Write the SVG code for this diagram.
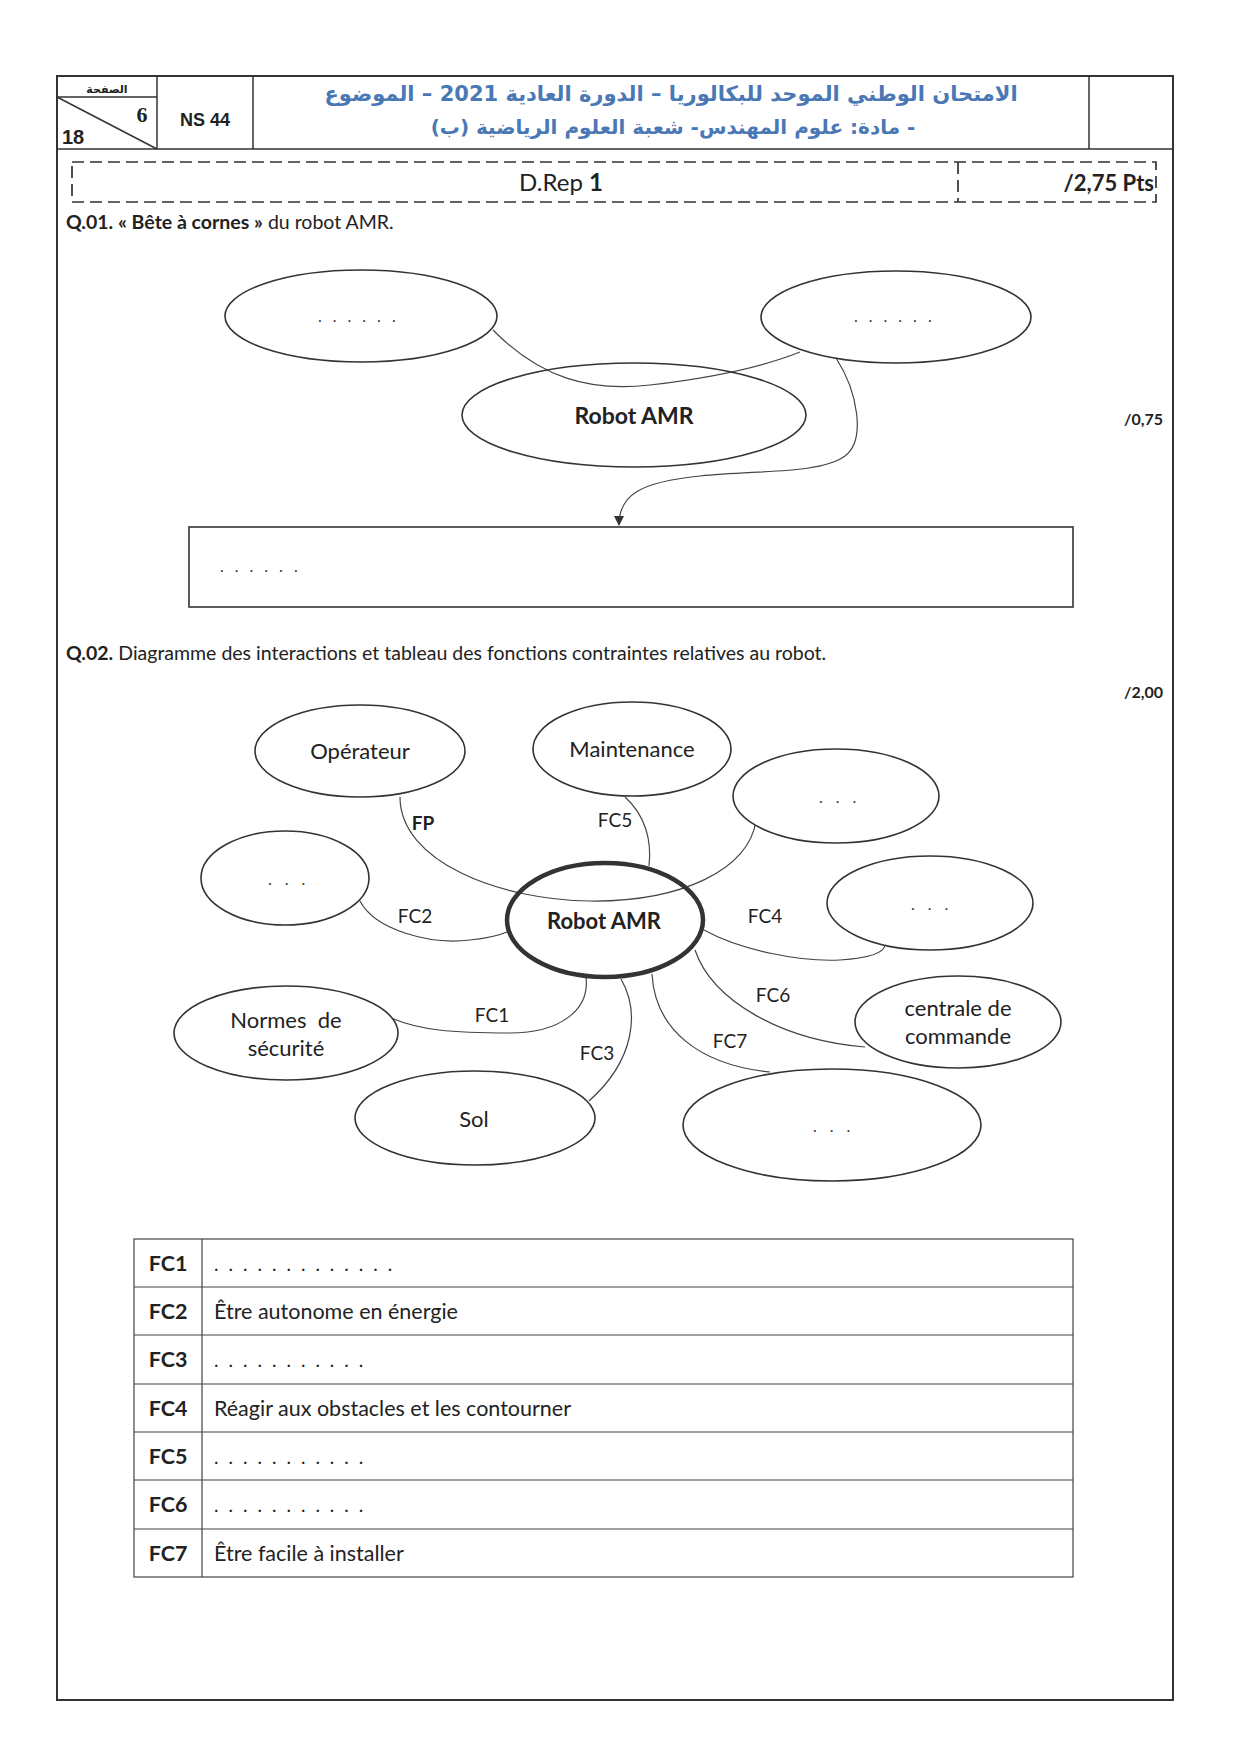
<svg xmlns="http://www.w3.org/2000/svg" width="1240" height="1752" viewBox="0 0 1240 1752">
<style>
.frame{fill:none;stroke:#333;stroke-width:2}
.hl{fill:none;stroke:#333;stroke-width:1.5}
.dash{fill:none;stroke:#333;stroke-width:1.7;stroke-dasharray:12 6}
.node{fill:#fff;stroke:#333;stroke-width:1.6}
.open{fill:none;stroke:#333;stroke-width:1.6}
.main{fill:none;stroke:#333;stroke-width:4.5}
.conn{fill:none;stroke:#444;stroke-width:1.2}
.t{font-family:Lato,"Open Sans",sans-serif;fill:#222}
.b{font-weight:bold}
.ar{font-family:"DejaVu Sans",sans-serif;font-weight:bold;fill:#4a78b5}
.lbl{font-family:Lato,"Open Sans",sans-serif;font-size:19px;fill:#222;text-anchor:middle}
.nm{font-size:22px}
.dots{font-family:Lato,sans-serif;font-size:16px;fill:#333;letter-spacing:11px}
.cell{fill:none;stroke:#444;stroke-width:1.2}
</style>
<defs>
<marker id="arr" viewBox="0 0 10 10" refX="9" refY="5" markerWidth="10" markerHeight="10" markerUnits="userSpaceOnUse" orient="auto">
<path d="M0,0 L10,5 L0,10 z" fill="#333"/>
</marker>
</defs>
<rect width="1240" height="1752" fill="#fff"/>

<!-- page frame and header -->
<g id="header">
<rect class="frame" x="57" y="76" width="1116" height="1624"/>
<line class="hl" x1="57" y1="149" x2="1173" y2="149"/>
<line class="hl" x1="157" y1="76" x2="157" y2="149"/>
<line class="hl" x1="253" y1="76" x2="253" y2="149"/>
<line class="hl" x1="1089" y1="76" x2="1089" y2="149"/>
<line class="hl" x1="57" y1="97" x2="157" y2="97"/>
<line class="hl" x1="57" y1="97" x2="157" y2="149"/>
<text x="107" y="93" font-family="DejaVu Sans,sans-serif" font-weight="bold" font-size="11" text-anchor="middle" fill="#222" direction="rtl">الصفحة</text>
<text x="142" y="122" font-family="Liberation Serif,serif" font-weight="bold" font-size="22" text-anchor="middle" fill="#222">6</text>
<text x="62" y="144" font-family="Liberation Sans,sans-serif" font-weight="bold" font-size="20" fill="#222">18</text>
<text x="205" y="126" font-family="Liberation Sans,sans-serif" font-weight="bold" font-size="18" text-anchor="middle" fill="#222">NS 44</text>
<text class="ar" x="671" y="101" font-size="21" text-anchor="middle" direction="rtl">الامتحان الوطني الموحد للبكالوريا – الدورة العادية 2021 – الموضوع</text>
<text class="ar" x="673" y="134" font-size="20" text-anchor="middle" direction="rtl">- مادة: علوم المهندس- شعبة العلوم الرياضية (ب)</text>
</g>

<g id="drep">
<rect class="dash" x="72" y="162" width="1084" height="40"/>
<line class="dash" x1="958" y1="162" x2="958" y2="202"/>
<text class="t" x="561" y="191" font-size="24" text-anchor="middle">D.Rep <tspan class="b">1</tspan></text>
<text class="t b" x="1154" y="191" font-size="22" text-anchor="end">/2,75 Pts</text>
</g>

<g id="q01-title">
<text class="t" x="66" y="229" font-size="19.5"><tspan class="b">Q.01. « Bête à cornes »</tspan> du robot AMR.</text>
<text class="t b" x="1163" y="425" font-size="16" text-anchor="end">/0,75</text>
</g>

<!-- Bête à cornes -->
<g id="bc-connectors">
<path class="conn" d="M493,330 C540,378 590,392 650,385 C710,378 760,368 800,352"/>
<path class="conn" d="M836,358 C858,392 866,440 845,456 C820,474 760,470 700,476 C640,482 619,495 619,525" marker-end="url(#arr)"/>
</g>
<g id="bc-left">
<ellipse class="open" cx="361" cy="316" rx="136" ry="46"/>
<text class="dots" x="318" y="322">......</text>
</g>
<g id="bc-right">
<ellipse class="open" cx="896" cy="317" rx="135" ry="46"/>
<text class="dots" x="854" y="322">......</text>
</g>
<g id="bc-robot">
<ellipse class="open" cx="634" cy="415" rx="172" ry="52"/>
<text class="t b" x="634" y="424" font-size="23" text-anchor="middle">Robot AMR</text>
</g>
<g id="bc-function">
<rect class="node" x="189" y="527" width="884" height="80"/>
<text class="dots" x="220" y="572">......</text>
</g>

<g id="q02-title">
<text class="t" x="66" y="660" font-size="19.5"><tspan class="b">Q.02.</tspan> Diagramme des interactions et tableau des fonctions contraintes relatives au robot.</text>
<text class="t b" x="1163" y="698" font-size="16" text-anchor="end">/2,00</text>
</g>

<!-- Interaction diagram -->
<g id="connectors">
<path class="conn" d="M400,797 C400,862 500,900 590,901 C680,902 750,870 756,820"/>
<path class="conn" d="M625,797 C645,815 652,840 649,866"/>
<path class="conn" d="M360,901 C375,930 430,945 470,940 C490,938 500,935 507,932"/>
<path class="conn" d="M704,930 C740,950 800,962 840,960 C870,958 884,953 885,945"/>
<path class="conn" d="M695,950 C712,1000 780,1040 865,1047"/>
<path class="conn" d="M652,974 C655,1030 700,1065 770,1072"/>
<path class="conn" d="M586,977 C590,1010 560,1033 510,1033 C450,1033 420,1030 391,1018"/>
<path class="conn" d="M621,979 C640,1012 635,1060 589,1101"/>
<text class="lbl b" x="423" y="830">FP</text>
<text class="lbl" x="615" y="827">FC5</text>
<text class="lbl" x="415" y="923">FC2</text>
<text class="lbl" x="765" y="923">FC4</text>
<text class="lbl" x="773" y="1002">FC6</text>
<text class="lbl" x="492" y="1022">FC1</text>
<text class="lbl" x="730" y="1048">FC7</text>
<text class="lbl" x="597" y="1060">FC3</text>
</g>
<g id="n-operateur">
<ellipse class="node" cx="360" cy="751" rx="105" ry="46"/>
<text class="lbl nm" x="360" y="759">Opérateur</text>
</g>
<g id="n-maintenance">
<ellipse class="node" cx="632" cy="749" rx="99" ry="47"/>
<text class="lbl nm" x="632" y="757">Maintenance</text>
</g>
<g id="n-top-right">
<ellipse class="node" cx="836" cy="796" rx="103" ry="47"/>
<text class="dots" x="819" y="803" style="letter-spacing:13px">...</text>
</g>
<g id="n-left">
<ellipse class="node" cx="285" cy="878" rx="84" ry="47"/>
<text class="dots" x="268" y="885" style="letter-spacing:13px">...</text>
</g>
<g id="n-robot">
<ellipse class="main" cx="605" cy="920" rx="98" ry="57"/>
<text class="lbl b nm" x="604" y="929">Robot AMR</text>
</g>
<g id="n-right">
<ellipse class="node" cx="930" cy="903" rx="103" ry="47"/>
<text class="dots" x="911" y="910" style="letter-spacing:13px">...</text>
</g>
<g id="n-normes">
<ellipse class="node" cx="286" cy="1033" rx="112" ry="47"/>
<text class="lbl nm" x="286" y="1028" xml:space="preserve">Normes  de</text>
<text class="lbl nm" x="286" y="1056">sécurité</text>
</g>
<g id="n-centrale">
<ellipse class="node" cx="958" cy="1022" rx="103" ry="46"/>
<text class="lbl nm" x="958" y="1016">centrale de</text>
<text class="lbl nm" x="958" y="1044">commande</text>
</g>
<g id="n-sol">
<ellipse class="node" cx="475" cy="1118" rx="120" ry="47"/>
<text class="lbl nm" x="474" y="1127">Sol</text>
</g>
<g id="n-bottom-right">
<ellipse class="node" cx="832" cy="1125" rx="149" ry="56"/>
<text class="dots" x="813" y="1132" style="letter-spacing:13px">...</text>
</g>

<!-- table -->
<g id="table">
<rect class="cell" x="134" y="1239" width="939" height="338"/>
<line class="cell" x1="202" y1="1239" x2="202" y2="1577"/>
<line class="cell" x1="134" y1="1287" x2="1073" y2="1287"/>
<line class="cell" x1="134" y1="1335" x2="1073" y2="1335"/>
<line class="cell" x1="134" y1="1384" x2="1073" y2="1384"/>
<line class="cell" x1="134" y1="1432" x2="1073" y2="1432"/>
<line class="cell" x1="134" y1="1480" x2="1073" y2="1480"/>
<line class="cell" x1="134" y1="1529" x2="1073" y2="1529"/>
<g class="t" font-size="21.5">
<text class="b" x="168" y="1271" text-anchor="middle">FC1</text>
<text class="b" x="168" y="1319" text-anchor="middle">FC2</text>
<text class="b" x="168" y="1367" text-anchor="middle">FC3</text>
<text class="b" x="168" y="1416" text-anchor="middle">FC4</text>
<text class="b" x="168" y="1464" text-anchor="middle">FC5</text>
<text class="b" x="168" y="1512" text-anchor="middle">FC6</text>
<text class="b" x="168" y="1561" text-anchor="middle">FC7</text>
<text x="214" y="1271" font-size="19" style="letter-spacing:10px">.............</text>
<text x="214" y="1319">Être autonome en énergie</text>
<text x="214" y="1367" font-size="19" style="letter-spacing:10px">...........</text>
<text x="214" y="1416">Réagir aux obstacles et les contourner</text>
<text x="214" y="1464" font-size="19" style="letter-spacing:10px">...........</text>
<text x="214" y="1512" font-size="19" style="letter-spacing:10px">...........</text>
<text x="214" y="1561">Être facile à installer</text>
</g>
</g>
</svg>
